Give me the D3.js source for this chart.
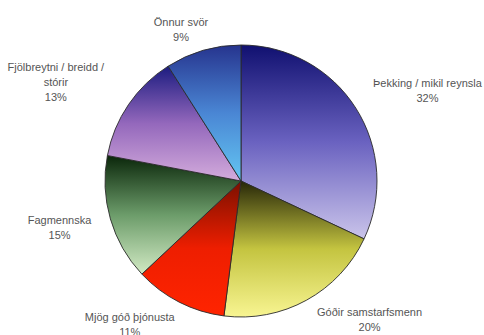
<!DOCTYPE html>
<html>
<head>
<meta charset="utf-8">
<script src="https://cdn.jsdelivr.net/npm/d3@7"></script>
<style>
  body { margin: 0; background: #fff; }
  text { font-family: "Liberation Sans", Arial, sans-serif; font-size: 11px; fill: #555; }
</style>
</head>
<body>
<svg id="chart" width="484" height="335"></svg>
<script>
// Data
const categories = ['Þekking / mikil reynsla', 'Góðir samstarfsmenn', 'Mjög góð þjónusta',
  'Fagmennska', 'Fjölbreytni / breidd / stórir', 'Önnur svör'];
const values = [32, 20, 11, 15, 13, 9];
const labelLines = [
  ['Þekking / mikil reynsla'],
  ['Góðir samstarfsmenn'],
  ['Mjög góð þjónusta'],
  ['Fagmennska'],
  ['Fjölbreytni / breidd /', 'stórir'],
  ['Önnur svör'],
];

// gradient colours per slice: top, middle, bottom
const gradColors = [
  ['#101070', '#6a62c0', '#cac4ea'],
  ['#262608', '#c4c440', '#f8f592'],
  ['#7a1000', '#ee1e00', '#ff2400'],
  ['#0a260a', '#6c9c6a', '#d2eac4'],
  ['#1c1c80', '#9468bc', '#d4acdc'],
  ['#26348e', '#4a86d4', '#64c6f2'],
];

// label nudges from the label arc centroid (layout only)
const labelNudge = [[26, 15], [37, -24], [-25, -22], [1, -3], [-28, 12], [-7, 35]];

const cx = 241;
const cy = 181;
const radius = 136;
const labelRadius = 190;
const lineGap = 15;

const svg = d3.select('#chart');
const defs = svg.append('defs');

gradColors.forEach((cols, i) => {
  const g = defs.append('linearGradient')
    .attr('id', `grad${i}`)
    .attr('x1', 0).attr('y1', 0)
    .attr('x2', 0).attr('y2', 1);
  g.append('stop').attr('offset', '0%').attr('stop-color', cols[0]);
  g.append('stop').attr('offset', '50%').attr('stop-color', cols[1]);
  g.append('stop').attr('offset', '100%').attr('stop-color', cols[2]);
});

const pie = d3.pie().sort(null).value((d) => d);
const arcs = pie(values);

const arc = d3.arc().innerRadius(0).outerRadius(radius);
const labelArc = d3.arc().innerRadius(labelRadius).outerRadius(labelRadius);

const g = svg.append('g').attr('transform', `translate(${cx},${cy})`);

g.selectAll('path.slice')
  .data(arcs)
  .join('path')
  .attr('class', 'slice')
  .attr('d', arc)
  .attr('fill', (d, i) => `url(#grad${i})`)
  .attr('stroke', '#2a2a2a')
  .attr('stroke-width', 0.9);

// Labels
arcs.forEach((d, i) => {
  const [lx, ly] = labelArc.centroid(d);
  const x = lx + labelNudge[i][0];
  const lines = labelLines[i].concat([`${values[i]}%`]);
  const y0 = ly + labelNudge[i][1] - ((lines.length - 1) * lineGap) / 2;
  const t = g.append('text')
    .attr('text-anchor', 'middle')
    .attr('x', x)
    .attr('y', y0);
  lines.forEach((line, j) => {
    t.append('tspan')
      .attr('x', x)
      .attr('y', y0 + j * lineGap)
      .text(line);
  });
});
</script>
</body>
</html>
